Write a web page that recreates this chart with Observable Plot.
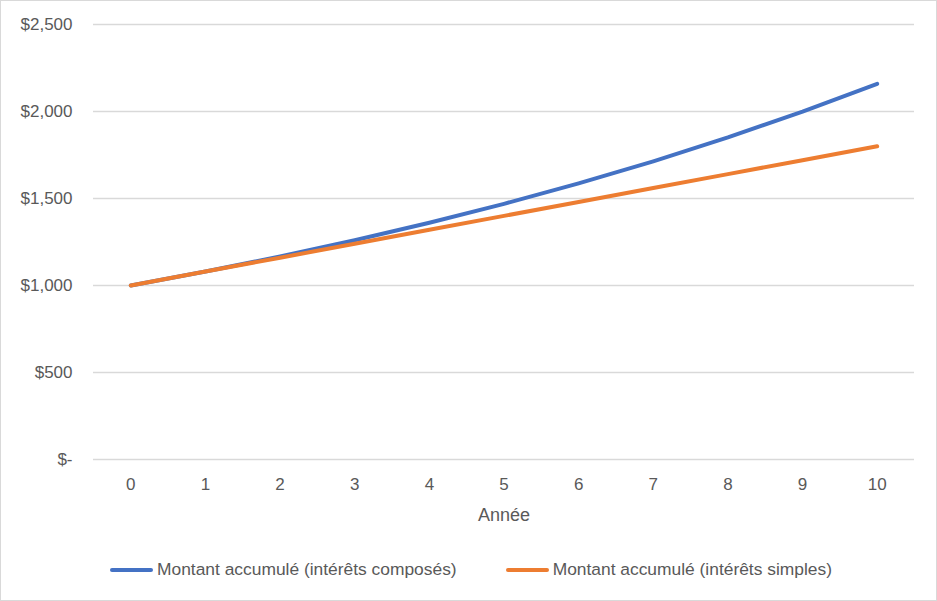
<!DOCTYPE html>
<html>
<head>
<meta charset="utf-8">
<script src="https://cdn.jsdelivr.net/npm/d3@7"></script>
<script src="https://cdn.jsdelivr.net/npm/@observablehq/plot@0.6"></script>
<style>
  html, body { margin: 0; padding: 0; background: #fff; }
  #wrap { position: relative; width: 935px; height: 599px; border: 1px solid #d9d9d9; background: #fff; overflow: hidden; }
  #chart svg { display: block; }
  #legend { position: absolute; left: 109px; top: 558px; display: flex; gap: 49px;
    font-family: "Liberation Sans", sans-serif; font-size: 17.4px; color: #595959; white-space: nowrap; }
  .item { display: flex; align-items: center; }
  .sw { width: 43px; height: 4px; border-radius: 2px; margin-right: 4px; }
</style>
</head>
<body>
<div id="wrap">
  <div id="chart"></div>
  <div id="legend"></div>
</div>
<script>
const years = [0, 1, 2, 3, 4, 5, 6, 7, 8, 9, 10];
const compound = [1000, 1080, 1166.4, 1259.7, 1360.5, 1469.3, 1586.9, 1713.8, 1850.9, 1999.0, 2158.9];
const simple = [1000, 1080, 1160, 1240, 1320, 1400, 1480, 1560, 1640, 1720, 1800];
const seriesNames = ["Montant accumulé (intérêts composés)", "Montant accumulé (intérêts simples)"];
const seriesColors = ["#4472c4", "#ed7d31"];
const yTicks = [0, 500, 1000, 1500, 2000, 2500];
const xLabel = "Année";

const data = [];
years.forEach((y, i) => data.push({year: y, value: compound[i], series: seriesNames[0]}));
years.forEach((y, i) => data.push({year: y, value: simple[i], series: seriesNames[1]}));

const fmt = v => v === 0 ? "$-" : "$" + d3.format(",")(v);

const chart = Plot.plot({
  width: 935,
  height: 530,
  marginTop: 23,
  marginBottom: 72,
  marginLeft: 92,
  marginRight: 22,
  style: { fontFamily: "Liberation Sans, sans-serif", fontSize: "17px", color: "#595959", background: "#fff" },
  x: { type: "point", domain: years, padding: 0.5, round: false },
  y: { domain: [0, 2500] },
  color: { domain: seriesNames, range: seriesColors },
  marks: [
    Plot.ruleY(yTicks, { stroke: "#d9d9d9", strokeWidth: 1.3 }),
    Plot.axisY({ ticks: yTicks, tickSize: 0, tickPadding: 21, tickFormat: fmt, label: null, fill: "#595959", fontSize: 17 }),
    Plot.axisX({ tickSize: 0, tickPadding: 18, label: null, fill: "#595959", fontSize: 17 }),
    Plot.text([xLabel], { frameAnchor: "bottom", dy: 61, fill: "#595959", fontSize: 18 }),
    Plot.line(data, { x: "year", y: "value", z: "series", stroke: "series", strokeWidth: 4, strokeLinecap: "round", strokeLinejoin: "round" })
  ]
});
document.getElementById("chart").appendChild(chart);

const legend = document.getElementById("legend");
seriesNames.forEach((n, i) => {
  const it = document.createElement("div");
  it.className = "item";
  const sw = document.createElement("span");
  sw.className = "sw";
  sw.style.background = seriesColors[i];
  const tx = document.createElement("span");
  tx.textContent = n;
  it.appendChild(sw); it.appendChild(tx);
  legend.appendChild(it);
});
</script>
</body>
</html>
